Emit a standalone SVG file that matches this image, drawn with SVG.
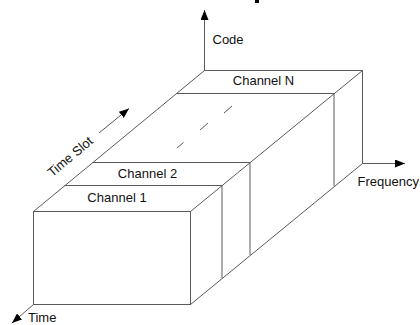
<svg xmlns="http://www.w3.org/2000/svg" width="420" height="325" viewBox="0 0 420 325">
  <defs>
    <marker id="arr" viewBox="0 0 10 8" refX="10" refY="4" markerWidth="10" markerHeight="8" markerUnits="userSpaceOnUse" orient="auto">
      <path d="M0,0 L10,4 L0,8 Z" fill="#000"/>
    </marker>
    <style>
      .ln { stroke: #5a5a5a; stroke-width: 1; fill: none; }
      .ax { stroke: #5a5a5a; stroke-width: 1; fill: none; marker-end: url(#arr); }
      .t { font-family: "Liberation Sans", Arial, sans-serif; font-size: 13px; fill: #111; }
    </style>
  </defs>
  <rect width="420" height="325" fill="#fff"/>
  <rect x="255" y="0" width="4" height="3" fill="#000"/>

  <g id="box">
    <rect class="ln" x="33.5" y="211.5" width="157" height="93"/>
    <line class="ln" x1="33.5" y1="211.5" x2="204.5" y2="70.5"/>
    <line class="ln" x1="190.5" y1="211.5" x2="362.5" y2="70.5"/>
    <line class="ln" x1="190.5" y1="304.5" x2="362.5" y2="163.5"/>
    <line class="ln" x1="204.5" y1="70.5" x2="362.5" y2="70.5"/>
    <line class="ln" x1="362.5" y1="70.5" x2="362.5" y2="163.5"/>
  </g>

  <g id="channel-1">
    <line class="ln" x1="64.5" y1="185.5" x2="222" y2="185.5"/>
    <line class="ln" x1="222" y1="185.5" x2="222" y2="278"/>
    <text class="t" x="117" y="202" text-anchor="middle">Channel 1</text>
  </g>

  <g id="channel-2">
    <line class="ln" x1="92.5" y1="162.5" x2="250" y2="162.5"/>
    <line class="ln" x1="250" y1="162.5" x2="250" y2="255"/>
    <text class="t" x="147.5" y="178" text-anchor="middle">Channel 2</text>
  </g>

  <g id="channel-n">
    <line class="ln" x1="176" y1="93.5" x2="334" y2="93.5"/>
    <line class="ln" x1="334" y1="93.5" x2="334" y2="186"/>
    <text class="t" x="263.5" y="85" text-anchor="middle">Channel N</text>
  </g>

  <g id="dashes">
    <line class="ln" x1="177" y1="148" x2="183.5" y2="142.5"/>
    <line class="ln" x1="200" y1="130" x2="208" y2="123"/>
    <line class="ln" x1="224" y1="113" x2="232" y2="106"/>
  </g>

  <g id="connectors">
    <line class="ax" x1="204.5" y1="70.5" x2="204.5" y2="10"/>
    <line class="ax" x1="362.5" y1="163.5" x2="405" y2="163.5"/>
    <line class="ax" x1="33.5" y1="304.5" x2="12" y2="323"/>
    <line class="ax" x1="99" y1="133" x2="129" y2="108.5"/>
  </g>

  <g id="labels">
    <text class="t" x="212.5" y="43.5">Code</text>
    <text class="t" x="357.5" y="186">Frequency</text>
    <text class="t" x="28" y="322">Time</text>
    <text class="t" x="73" y="160" text-anchor="middle" transform="rotate(-40 73 160)">Time Slot</text>
  </g>
</svg>
